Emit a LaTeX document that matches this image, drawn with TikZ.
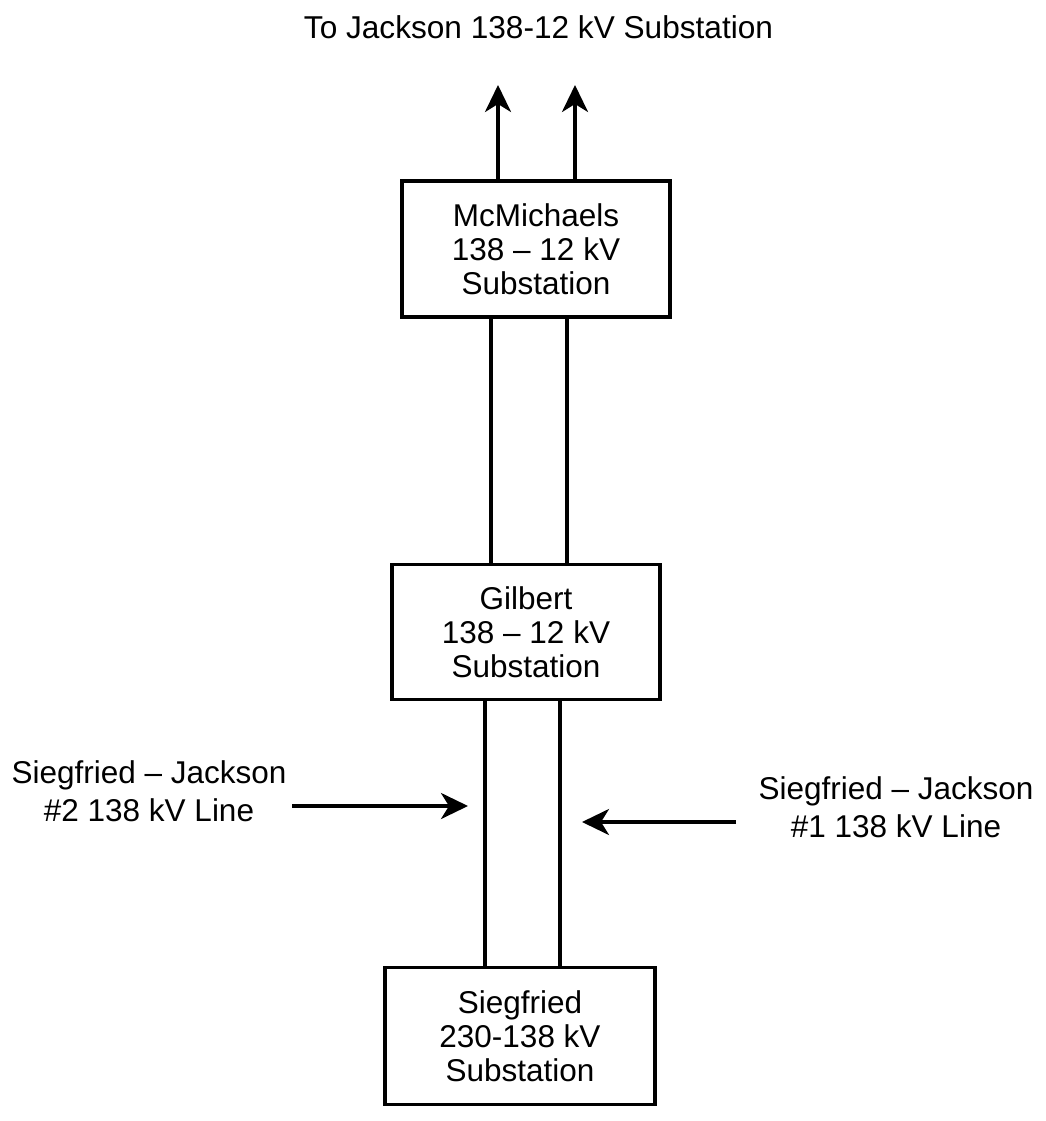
\documentclass[tikz,border=0pt]{standalone}
\usepackage{fontspec}
\setmainfont{Liberation Sans}
\usetikzlibrary{arrows.meta}
\begin{document}
\begin{tikzpicture}[x=1pt,y=-1pt,
  box/.style={draw, line width=3.5pt, minimum width=268pt, minimum height=136pt,
    inner sep=0pt, align=center, font=\fontsize{31.5}{34}\selectfont},
  wire/.style={line width=3.5pt},
  arr/.style={line width=3.5pt, -{Stealth[length=27pt,width=26pt,inset=8pt]}},
  lbl/.style={align=center, font=\fontsize{31.5}{38}\selectfont, inner sep=0pt}]
\useasboundingbox (0,0) rectangle (1045,1121);
% boxes
\node[box] (mc) at (536,249) {McMichaels\\138 – 12 kV\\Substation};
\node[box, minimum height=135pt] (gil) at (526,632) {Gilbert\\138 – 12 kV\\Substation};
\node[box, minimum width=270pt, minimum height=137pt] (sg) at (520,1036) {Siegfried\\230-138 kV\\Substation};
% labels
\node[lbl, font=\fontsize{31.6}{36}\selectfont, anchor=base] (top) at (538.5,39) {To Jackson 138-12 kV Substation};
\node[lbl] (lab2) at (149,791.5) {Siegfried – Jackson\\\#2 138 kV Line};
\node[lbl] (lab1) at (896,807.5) {Siegfried – Jackson\\\#1 138 kV Line};
% coordinates
\coordinate (t1) at (498,85);
\coordinate (t2) at (575,85);
\coordinate (a1) at (491,0);
\coordinate (a2) at (567,0);
\coordinate (b1) at (485,0);
\coordinate (b2) at (560,0);
\coordinate (l0) at (292,806);
\coordinate (l1) at (468,806);
\coordinate (r0) at (736,822);
\coordinate (r1) at (582,822);
% connectors
\draw[arr] (mc.north -| t1) -- (t1);
\draw[arr] (mc.north -| t2) -- (t2);
\draw[wire] (mc.south -| a1) -- (gil.north -| a1);
\draw[wire] (mc.south -| a2) -- (gil.north -| a2);
\draw[wire] (gil.south -| b1) -- (sg.north -| b1);
\draw[wire] (gil.south -| b2) -- (sg.north -| b2);
\draw[arr] (l0) -- (l1);
\draw[arr] (r0) -- (r1);
\end{tikzpicture}
\end{document}
